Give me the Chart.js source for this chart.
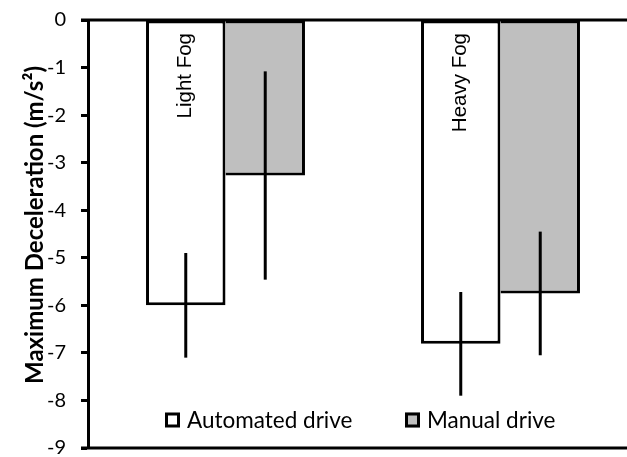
<!DOCTYPE html>
<html>
<head>
<meta charset="utf-8">
<script src="https://cdn.jsdelivr.net/npm/chart.js@4.4.1/dist/chart.umd.min.js"></script>
<style>
html,body{margin:0;padding:0;background:#fff;overflow:hidden;}
#wrap{width:640px;height:482px;margin-top:-7px;}
</style>
</head>
<body>
<div id="wrap"><canvas id="c" width="640" height="482"></canvas></div>
<script>
const categories = ['Light Fog', 'Heavy Fog'];
const seriesNames = ['Automated drive', 'Manual drive'];
const automated = [-6.0, -6.81];
const manual = [-3.27, -5.75];
const automatedErr = [1.1, 1.09];
const manualErr = [2.19, 1.3];
const yMin = -9, yMax = 0, yStep = 1;
const yTitle = 'Maximum Deceleration (m/s\u00B2)';
const errors = [automatedErr, manualErr];

const tickFont = 'Lato';
const OFF = 7; // canvas is shifted up by this many pixels

const extras = {
  id: 'extras',
  afterDatasetsDraw(chart) {
    const ctx = chart.ctx;
    const ys = chart.scales.y;
    const ca = chart.chartArea;
    ctx.save();
    // error bars
    ctx.strokeStyle = '#000';
    ctx.lineWidth = 3;
    chart.data.datasets.forEach((ds, di) => {
      const meta = chart.getDatasetMeta(di);
      meta.data.forEach((bar, i) => {
        const v = ds.data[i], e = errors[di][i];
        ctx.beginPath();
        ctx.moveTo(bar.x, ys.getPixelForValue(v + e));
        ctx.lineTo(bar.x, ys.getPixelForValue(v - e));
        ctx.stroke();
      });
    });
    // horizontal lines at 0 and min
    [yMax, yMin].forEach(v => {
      const p = ys.getPixelForValue(v);
      ctx.beginPath();
      ctx.moveTo(ca.left - 7, p);
      ctx.lineTo(ca.right, p);
      ctx.stroke();
    });
    // category labels inside automated bars
    const meta0 = chart.getDatasetMeta(0);
    ctx.fillStyle = '#000';
    ctx.font = '20.5px "Liberation Sans", Arial, sans-serif';
    ctx.textAlign = 'right';
    ctx.textBaseline = 'middle';
    meta0.data.forEach((bar, i) => {
      ctx.save();
      ctx.translate(bar.x, ys.getPixelForValue(yMax) + 13);
      ctx.rotate(-Math.PI / 2);
      ctx.fillText(chart.data.labels[i], 0, 0);
      ctx.restore();
    });
    // legend
    ctx.font = '22.5px ' + tickFont;
    ctx.textAlign = 'left';
    ctx.textBaseline = 'middle';
    const legendPos = [165, 405];
    chart.data.datasets.forEach((ds, di) => {
      const x = legendPos[di], y = 420 + OFF;
      ctx.fillStyle = ds.backgroundColor;
      ctx.fillRect(x, y - 7.5, 15, 15);
      ctx.lineWidth = 3;
      ctx.strokeStyle = '#000';
      ctx.strokeRect(x + 1.5, y - 6, 12, 12);
      ctx.fillStyle = '#000';
      ctx.fillText(ds.label, x + 22, y + 1);
    });
    // y title
    ctx.save();
    ctx.font = 'bold 24px ' + tickFont;
    ctx.textAlign = 'center';
    ctx.textBaseline = 'middle';
    ctx.translate(35, 225 + OFF);
    ctx.rotate(-Math.PI / 2);
    ctx.fillText(yTitle, 0, 0);
    ctx.restore();
    ctx.restore();
  }
};

new Chart(document.getElementById('c'), {
  type: 'bar',
  data: {
    labels: categories,
    datasets: [
      { label: seriesNames[0], data: automated, backgroundColor: '#ffffff', borderColor: '#000', borderWidth: 3, borderSkipped: false },
      { label: seriesNames[1], data: manual, backgroundColor: '#bfbfbf', borderColor: '#000', borderWidth: 3, borderSkipped: 'left' }
    ]
  },
  options: {
    responsive: false,
    animation: false,
    events: [],
    layout: { padding: { left: 0, right: 2, top: 0, bottom: 0 } },
    plugins: { legend: { display: false }, tooltip: { enabled: false } },
    datasets: { bar: { categoryPercentage: 0.578, barPercentage: 1, inflateAmount: 0 } },
    scales: {
      x: { display: false, offset: true },
      y: {
        min: yMin, max: yMax,
        ticks: { stepSize: yStep, color: '#000', font: { family: tickFont, size: 20 }, padding: 15 },
        grid: { drawOnChartArea: false, drawTicks: true, tickLength: 7, tickColor: '#000', tickWidth: 3 },
        border: { display: true, color: '#000', width: 3 },
        afterFit(s) { s.width = 88; }
      }
    }
  },
  plugins: [extras]
});
</script>
</body>
</html>
